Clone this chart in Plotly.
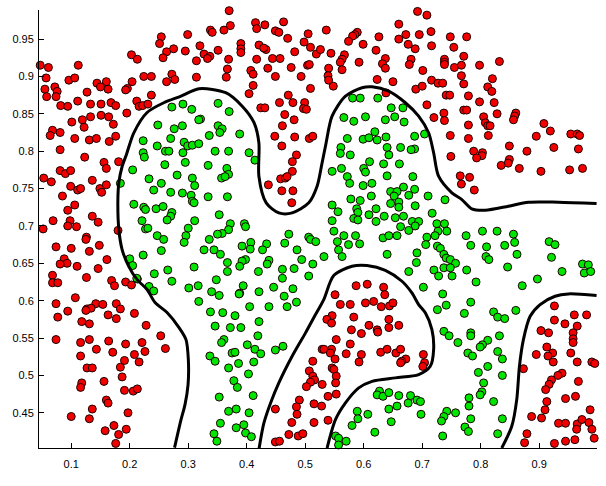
import plotly.graph_objects as go

# ---- data ----
red_points = [
(0.254,0.953),(0.251,0.944),(0.203,0.929),(0.213,0.923),(0.047,0.915),(0.061,0.912),(0.112,0.915),(0.263,0.933),(0.275,0.937),(0.257,0.925),(0.057,0.898),(0.096,0.895),(0.106,0.898),(0.144,0.891),(0.160,0.893),(0.150,0.886),(0.163,0.883),(0.196,0.884),(0.204,0.893),(0.193,0.882),(0.224,0.900),(0.237,0.900),(0.263,0.893),(0.272,0.903),(0.277,0.896),(0.055,0.883),(0.072,0.886),(0.076,0.880),(0.074,0.873),(0.058,0.873),(0.082,0.861),(0.094,0.860),(0.111,0.867),(0.127,0.879),(0.133,0.863),(0.151,0.863),(0.168,0.865),(0.176,0.861),(0.212,0.867),(0.216,0.860),(0.222,0.861),(0.231,0.863),(0.237,0.875),(0.195,0.851),(0.133,0.846),(0.151,0.848),(0.164,0.846),(0.172,0.836),(0.101,0.839),(0.119,0.842),(0.122,0.832),(0.068,0.828),(0.064,0.821),(0.081,0.825),(0.106,0.817),(0.131,0.815),(0.143,0.817),(0.176,0.820),(0.165,0.813),(0.081,0.802),
(0.370,0.988),(0.415,0.972),(0.431,0.969),(0.417,0.964),(0.463,0.973),(0.372,0.968),(0.361,0.962),(0.338,0.962),(0.341,0.959),(0.299,0.956),(0.449,0.961),(0.455,0.959),(0.505,0.957),(0.470,0.951),(0.421,0.942),(0.433,0.936),(0.429,0.938),(0.390,0.944),(0.390,0.937),(0.390,0.932),(0.320,0.941),(0.295,0.934),(0.351,0.935),(0.327,0.930),(0.337,0.927),(0.333,0.924),(0.314,0.921),(0.369,0.923),(0.417,0.923),(0.444,0.924),(0.457,0.924),(0.482,0.933),(0.498,0.946),(0.509,0.939),(0.519,0.930),(0.504,0.915),(0.507,0.916),(0.367,0.910),(0.365,0.899),(0.407,0.908),(0.411,0.903),(0.436,0.911),(0.476,0.912),(0.449,0.900),(0.493,0.900),(0.314,0.899),(0.411,0.888),(0.404,0.877),(0.509,0.884),(0.471,0.875),(0.456,0.865),(0.424,0.858),(0.431,0.858),(0.479,0.865),(0.499,0.865),(0.497,0.857),(0.502,0.856),(0.465,0.849),(0.481,0.842),(0.461,0.834),(0.448,0.820),(0.482,0.819),(0.507,0.817),(0.513,0.820),(0.460,0.807),
(0.692,0.987),(0.708,0.982),(0.660,0.970),(0.536,0.962),(0.589,0.959),(0.585,0.956),(0.581,0.954),(0.574,0.947),(0.599,0.943),(0.626,0.953),(0.660,0.950),(0.672,0.956),(0.695,0.956),(0.715,0.960),(0.676,0.943),(0.688,0.937),(0.716,0.941),(0.748,0.953),(0.754,0.939),(0.526,0.936),(0.544,0.931),(0.567,0.929),(0.563,0.923),(0.560,0.919),(0.563,0.909),(0.592,0.919),(0.621,0.935),(0.637,0.924),(0.632,0.917),(0.637,0.911),(0.681,0.923),(0.678,0.916),(0.701,0.908),(0.738,0.923),(0.738,0.919),(0.738,0.916),(0.755,0.912),(0.540,0.911),(0.539,0.901),(0.540,0.895),(0.548,0.887),(0.623,0.896),(0.650,0.893),(0.689,0.883),(0.700,0.887),(0.716,0.895),(0.727,0.891),(0.735,0.891),(0.741,0.875),(0.747,0.875),(0.638,0.878),(0.708,0.862),(0.737,0.851),(0.720,0.845),(0.738,0.841),(0.748,0.821),
(0.776,0.953),(0.771,0.927),(0.767,0.915),(0.798,0.915),(0.832,0.920),(0.767,0.901),(0.771,0.890),(0.820,0.897),(0.812,0.886),(0.819,0.880),(0.779,0.874),(0.798,0.866),(0.823,0.865),(0.771,0.855),(0.776,0.855),(0.828,0.850),(0.805,0.846),(0.860,0.851),(0.858,0.847),(0.856,0.842),(0.808,0.838),(0.812,0.834),(0.816,0.834),(0.779,0.835),(0.908,0.837),(0.919,0.827),(0.895,0.820),(0.813,0.821),(0.954,0.823),(0.965,0.823),(0.969,0.821),(0.779,0.817),(0.849,0.807),(0.925,0.805),(0.967,0.803),
(0.123,0.792),(0.156,0.785),(0.160,0.777),(0.181,0.786),(0.081,0.774),(0.090,0.770),(0.099,0.774),(0.053,0.764),(0.066,0.759),(0.136,0.761),(0.099,0.753),(0.111,0.748),(0.116,0.750),(0.149,0.750),(0.160,0.755),(0.152,0.745),(0.085,0.740),(0.106,0.728),(0.094,0.721),(0.136,0.713),(0.146,0.705),(0.069,0.707),(0.098,0.707),(0.094,0.700),(0.109,0.699),(0.052,0.696),(0.180,0.694),(0.126,0.685),(0.125,0.682),(0.074,0.672),(0.100,0.670),(0.148,0.674),(0.131,0.666),(0.161,0.655),(0.088,0.656),(0.093,0.650),(0.081,0.649),(0.110,0.646),(0.146,0.643),(0.068,0.634),(0.068,0.624),(0.077,0.624),(0.126,0.631),(0.169,0.627),(0.174,0.620),(0.193,0.625),(0.203,0.621),(0.213,0.629),(0.107,0.604),
(0.485,0.795),(0.478,0.786),(0.478,0.773),(0.437,0.755),(0.458,0.763),(0.466,0.764),(0.469,0.766),(0.460,0.747),(0.479,0.747),(0.477,0.731),
(0.749,0.793),(0.587,0.620),(0.606,0.622),(0.551,0.608),(0.634,0.618),(0.636,0.608),
(0.788,0.800),(0.803,0.798),(0.802,0.794),(0.793,0.791),(0.849,0.789),(0.847,0.784),(0.835,0.781),(0.866,0.777),(0.903,0.773),(0.879,0.800),(0.952,0.775),(0.974,0.777),(0.765,0.767),(0.781,0.765),(0.767,0.756),(0.789,0.748),
(0.074,0.596),(0.142,0.596),(0.154,0.595),(0.177,0.596),(0.184,0.589),(0.127,0.589),(0.134,0.590),(0.125,0.587),(0.094,0.586),(0.077,0.578),(0.163,0.581),(0.177,0.576),(0.208,0.583),(0.118,0.572),(0.131,0.569),(0.228,0.567),(0.074,0.548),(0.116,0.544),(0.131,0.548),(0.164,0.546),(0.193,0.542),(0.143,0.535),(0.171,0.531),(0.221,0.544),(0.226,0.532),(0.253,0.553),(0.261,0.536),(0.116,0.526),(0.208,0.528),(0.216,0.518),(0.191,0.520),(0.184,0.511),(0.127,0.510),(0.136,0.510),(0.187,0.498),(0.156,0.492),(0.118,0.490),(0.116,0.484),(0.191,0.480),(0.206,0.479),(0.213,0.482),(0.160,0.467),(0.163,0.463),(0.136,0.455),(0.100,0.445),(0.131,0.442),(0.197,0.450),(0.173,0.433),(0.158,0.426),(0.194,0.428),(0.181,0.421),(0.176,0.409),(0.146,0.402),
(0.513,0.519),(0.507,0.506),(0.513,0.499),(0.516,0.494),(0.509,0.491),(0.502,0.485),(0.490,0.467),(0.485,0.458),(0.486,0.448),(0.477,0.437),(0.515,0.462),(0.515,0.437),(0.449,0.455),(0.472,0.421),(0.449,0.411),(0.456,0.412),(0.488,0.419),(0.496,0.422),
(0.560,0.595),(0.577,0.595),(0.603,0.597),(0.617,0.599),(0.630,0.592),(0.644,0.593),(0.650,0.597),(0.546,0.580),(0.537,0.575),(0.545,0.570),(0.583,0.578),(0.579,0.561),(0.596,0.556),(0.609,0.567),(0.623,0.561),(0.624,0.558),(0.643,0.575),(0.643,0.564),(0.660,0.567),(0.553,0.548),(0.577,0.542),(0.529,0.535),(0.532,0.535),(0.545,0.535),(0.543,0.530),(0.570,0.529),(0.596,0.528),(0.592,0.518),(0.629,0.531),(0.640,0.535),(0.655,0.530),(0.663,0.535),(0.672,0.522),(0.665,0.519),(0.663,0.517),(0.702,0.528),(0.704,0.517),(0.701,0.512),(0.551,0.522),(0.546,0.510),(0.549,0.508),(0.553,0.499),(0.552,0.490),(0.529,0.488),(0.539,0.472),(0.553,0.475),(0.528,0.459),(0.539,0.440),
(0.926,0.593),(0.960,0.581),(0.981,0.581),(0.926,0.574),(0.944,0.569),(0.965,0.566),(0.903,0.560),(0.916,0.557),(0.958,0.557),(0.958,0.549),(0.958,0.544),(0.913,0.538),(0.923,0.530),(0.915,0.526),(0.895,0.528),(0.954,0.530),(0.965,0.518),(0.924,0.518),(0.990,0.518),(0.995,0.516),(0.873,0.509),(0.939,0.503),(0.932,0.500),(0.921,0.494),(0.917,0.488),(0.911,0.481),(0.967,0.492),(0.945,0.469),(0.962,0.472),(0.913,0.465),(0.910,0.454),(0.904,0.443),(0.887,0.445),(0.987,0.454),(0.933,0.436),(0.945,0.436),(0.965,0.435),(0.973,0.441),(0.985,0.437),(0.964,0.428),(0.990,0.428),(0.994,0.416),(0.961,0.414),(0.945,0.412),(0.926,0.409),(0.875,0.410),(0.879,0.422),
]

green_points = [
(0.272,0.859),(0.248,0.835),(0.276,0.830),(0.223,0.814),(0.270,0.817),(0.247,0.807),
(0.291,0.863),(0.306,0.856),(0.321,0.843),(0.318,0.842),(0.351,0.864),(0.370,0.853),(0.290,0.834),(0.351,0.834),(0.358,0.830),(0.354,0.825),(0.336,0.821),(0.388,0.823),(0.293,0.812),(0.299,0.807),(0.307,0.808),(0.318,0.810),
(0.581,0.871),(0.594,0.871),(0.624,0.871),(0.647,0.858),(0.667,0.858),(0.566,0.845),(0.583,0.840),(0.603,0.846),(0.637,0.842),(0.653,0.846),(0.669,0.839),(0.572,0.817),(0.599,0.816),(0.609,0.818),(0.619,0.826),(0.623,0.815),(0.638,0.819),(0.687,0.820),(0.704,0.823),(0.561,0.805),(0.640,0.805),(0.663,0.805),(0.687,0.803),
(0.223,0.798),(0.225,0.792),(0.261,0.800),(0.267,0.800),(0.260,0.782),(0.205,0.775),(0.233,0.763),(0.254,0.757),(0.281,0.768),(0.270,0.745),(0.241,0.748),(0.184,0.757),(0.207,0.729),(0.224,0.725),(0.227,0.722),(0.245,0.723),(0.257,0.726),(0.272,0.718),(0.270,0.713),(0.264,0.708),(0.221,0.707),(0.227,0.696),(0.231,0.697),(0.247,0.687),(0.258,0.682),(0.254,0.667),(0.223,0.661),(0.200,0.656),(0.205,0.647),(0.242,0.636),(0.265,0.641),(0.272,0.626),(0.212,0.630),(0.233,0.619),(0.241,0.613),
(0.291,0.798),(0.346,0.800),(0.369,0.800),(0.404,0.798),(0.295,0.785),(0.334,0.781),(0.366,0.777),(0.369,0.769),(0.357,0.764),(0.363,0.766),(0.307,0.764),(0.311,0.754),(0.290,0.744),(0.305,0.741),(0.307,0.733),(0.310,0.731),(0.334,0.739),(0.367,0.739),(0.414,0.788),(0.353,0.715),(0.311,0.707),(0.372,0.703),(0.396,0.703),(0.398,0.699),(0.300,0.697),(0.296,0.687),(0.293,0.678),(0.369,0.695),(0.358,0.690),(0.350,0.689),(0.336,0.682),(0.327,0.668),(0.344,0.668),(0.355,0.662),(0.392,0.673),(0.407,0.678),(0.406,0.669),(0.434,0.676),(0.427,0.668),(0.472,0.689),(0.465,0.677),(0.506,0.685),(0.509,0.682),(0.518,0.679),(0.486,0.668),(0.494,0.655),(0.438,0.654),(0.435,0.649),(0.398,0.655),(0.392,0.653),(0.388,0.646),(0.367,0.651),(0.367,0.639),(0.310,0.645),(0.420,0.639),(0.461,0.642),(0.481,0.643),(0.513,0.649),(0.506,0.633),(0.348,0.628),(0.394,0.620),(0.388,0.610),(0.387,0.609),(0.446,0.618),(0.461,0.630),(0.479,0.616),(0.421,0.612),(0.301,0.617),(0.317,0.620),(0.340,0.612),(0.353,0.607),(0.464,0.606),
(0.560,0.797),(0.577,0.795),(0.643,0.795),(0.681,0.802),(0.610,0.786),(0.634,0.783),(0.661,0.783),(0.546,0.773),(0.562,0.777),(0.572,0.766),(0.600,0.777),(0.603,0.772),(0.640,0.767),(0.684,0.766),(0.576,0.757),(0.599,0.754),(0.614,0.757),(0.668,0.752),(0.646,0.746),(0.657,0.746),(0.652,0.740),(0.687,0.749),(0.677,0.741),(0.710,0.740),(0.739,0.735),(0.578,0.736),(0.594,0.734),(0.613,0.740),(0.646,0.730),(0.660,0.732),(0.660,0.725),(0.688,0.727),(0.546,0.728),(0.556,0.719),(0.588,0.723),(0.590,0.718),(0.621,0.723),(0.583,0.710),(0.590,0.708),(0.609,0.715),(0.621,0.706),(0.635,0.713),(0.654,0.711),(0.668,0.713),(0.683,0.706),(0.694,0.706),(0.688,0.700),(0.717,0.717),(0.725,0.703),(0.738,0.703),(0.677,0.694),(0.663,0.699),(0.727,0.693),(0.742,0.693),(0.546,0.707),(0.549,0.693),(0.566,0.687),(0.586,0.687),(0.593,0.676),(0.574,0.675),(0.555,0.679),(0.557,0.668),(0.563,0.659),(0.532,0.659),(0.633,0.684),(0.643,0.687),(0.657,0.687),(0.708,0.685),(0.706,0.675),(0.722,0.687),(0.726,0.673),(0.731,0.670),(0.691,0.664),(0.737,0.662),(0.741,0.657),(0.748,0.655),(0.757,0.650),(0.640,0.662),(0.690,0.651),(0.677,0.639),(0.720,0.641),(0.728,0.633),(0.737,0.644),(0.748,0.644),(0.751,0.633),(0.702,0.618),(0.735,0.609),
(0.775,0.687),(0.783,0.674),(0.803,0.693),(0.828,0.693),(0.856,0.689),(0.858,0.678),(0.841,0.674),(0.810,0.672),(0.809,0.659),(0.814,0.655),(0.776,0.641),(0.792,0.625),(0.846,0.645),(0.862,0.662),(0.871,0.620),(0.897,0.629),(0.917,0.679),(0.927,0.675),(0.921,0.658),(0.939,0.639),(0.974,0.649),(0.984,0.648),(0.977,0.637),(0.988,0.639),
(0.318,0.599),(0.338,0.585),(0.359,0.584),(0.380,0.580),(0.405,0.592),(0.438,0.592),(0.469,0.592),(0.485,0.598),(0.346,0.566),(0.372,0.564),(0.390,0.564),(0.421,0.572),(0.419,0.553),(0.361,0.548),(0.357,0.544),(0.401,0.541),(0.414,0.535),(0.424,0.529),(0.375,0.530),(0.380,0.531),(0.337,0.526),(0.346,0.519),(0.386,0.516),(0.412,0.518),(0.369,0.510),(0.449,0.534),(0.462,0.539),(0.403,0.502),(0.378,0.493),(0.384,0.484),(0.353,0.471),(0.411,0.473),(0.369,0.452),(0.382,0.455),(0.404,0.450),(0.355,0.436),(0.382,0.430),(0.395,0.434),(0.398,0.423),(0.408,0.418),(0.344,0.422),(0.349,0.412),
(0.726,0.588),(0.741,0.594),(0.737,0.559),(0.746,0.553),(0.761,0.544),(0.627,0.479),(0.623,0.474),(0.633,0.472),(0.643,0.477),(0.660,0.473),(0.680,0.473),(0.691,0.467),(0.697,0.465),(0.676,0.463),(0.657,0.459),(0.643,0.455),(0.589,0.452),(0.590,0.442),(0.607,0.448),(0.698,0.448),(0.647,0.438),(0.580,0.433),(0.619,0.424),(0.742,0.452),(0.757,0.450),(0.737,0.445),(0.733,0.439),(0.735,0.419),(0.552,0.419),(0.557,0.416),(0.570,0.412),(0.557,0.407),
(0.783,0.598),(0.772,0.583),(0.822,0.585),(0.829,0.578),(0.841,0.576),(0.860,0.587),(0.783,0.557),(0.783,0.553),(0.832,0.553),(0.812,0.547),(0.803,0.541),(0.799,0.538),(0.778,0.530),(0.786,0.526),(0.829,0.532),(0.837,0.522),(0.812,0.512),(0.796,0.504),(0.837,0.500),(0.805,0.490),(0.802,0.478),(0.799,0.474),(0.780,0.470),(0.780,0.459),(0.822,0.465),(0.783,0.442),(0.837,0.442),(0.773,0.431),(0.779,0.425),(0.829,0.422),
]

# decision boundary contour pieces
boundary_a = [
(0.2766,0.4033),(0.2809,0.4181),(0.2877,0.4408),(0.2945,0.4609),(0.2997,0.4877),(0.3002,0.5212),(0.2962,0.5479),(0.2843,0.5640),(0.2638,0.5841),(0.2433,0.5975),(0.2297,0.6149),(0.2126,0.6282),(0.1985,0.6456),(0.1870,0.6684),(0.1814,0.6952),(0.1797,0.7313),(0.1814,0.7581),(0.1870,0.7795),(0.1944,0.7956),(0.2070,0.8246),(0.2297,0.8518),(0.2582,0.8648),(0.2877,0.8736),(0.3184,0.8835),(0.3640,0.8782),(0.3923,0.8602),(0.4123,0.8384),(0.4208,0.8112),(0.4208,0.7665),(0.4333,0.7309),(0.4549,0.7175),(0.4776,0.7175),(0.5061,0.7309),(0.5203,0.7531),(0.5283,0.7822),(0.5352,0.8090),(0.5459,0.8469),(0.5688,0.8736),(0.5971,0.8849),(0.6142,0.8862),(0.6427,0.8803),(0.6712,0.8648),(0.6939,0.8469),(0.7109,0.8246),(0.7195,0.7979),(0.7280,0.7665),(0.7507,0.7443),(0.7678,0.7353),(0.7848,0.7229),(0.8077,0.7210),(0.8474,0.7264),(0.8816,0.7317),(0.9328,0.7317),(0.9981,0.7300),
]
boundary_b = [
(0.4208,0.4007),(0.4294,0.4364),(0.4408,0.4632),(0.4549,0.4900),(0.4776,0.5256),(0.5005,0.5569),(0.5176,0.5814),(0.5317,0.6015),(0.5488,0.6336),(0.5800,0.6460),(0.6056,0.6470),(0.6370,0.6407),(0.6654,0.6260),(0.6824,0.6104),(0.6939,0.5948),(0.7053,0.5837),(0.7166,0.5613),(0.7195,0.5345),(0.7138,0.5122),(0.6939,0.5011),(0.6541,0.4967),(0.6142,0.4921),(0.5915,0.4833),(0.5688,0.4632),(0.5517,0.4408),(0.5374,0.4029),
]
boundary_c = [
(0.8360,0.4029),(0.8531,0.4319),(0.8616,0.4676),(0.8662,0.5122),(0.8730,0.5479),(0.8845,0.5791),(0.9015,0.5948),(0.9271,0.6059),(0.9498,0.6091),(0.9981,0.6068),
]

x_ticks = [0.1, 0.2, 0.3, 0.4, 0.5, 0.6, 0.7, 0.8, 0.9]
x_tick_labels = ["0.1", "0.2", "0.3", "0.4", "0.5", "0.6", "0.7", "0.8", "0.9"]
y_ticks = [0.45, 0.5, 0.55, 0.6, 0.65, 0.7, 0.75, 0.8, 0.85, 0.9, 0.95]
y_tick_labels = ["0.45", "0.5", "0.55", "0.6", "0.65", "0.7", "0.75", "0.8", "0.85", "0.9", "0.95"]
x_range = [0.0449, 0.9988]
y_range = [0.4029, 0.9889]

fig = go.Figure()

def add_points(pts, fill):
    fig.add_trace(go.Scatter(
        x=[p[0] for p in pts], y=[p[1] for p in pts], mode="markers",
        marker=dict(size=8, color=fill, line=dict(color="#1a0000", width=1)),
        cliponaxis=False, showlegend=False, hoverinfo="skip"))

add_points(red_points, "#f20000")
add_points(green_points, "#00e600")

for curve in (boundary_a, boundary_b, boundary_c):
    fig.add_trace(go.Scatter(
        x=[p[0] for p in curve], y=[p[1] for p in curve], mode="lines",
        line=dict(color="black", width=3, shape="spline", smoothing=0.8),
        cliponaxis=True, showlegend=False, hoverinfo="skip"))

axis_common = dict(showline=True, linecolor="black", linewidth=1, ticks="inside",
                   ticklen=5, tickcolor="black", showgrid=False, zeroline=False,
                   mirror=False, tickfont=dict(family="Liberation Sans, Arial", size=11, color="black"))

fig.update_xaxes(range=x_range, tickvals=x_ticks, ticktext=x_tick_labels,
                 ticklabelstandoff=6, **axis_common)
fig.update_yaxes(range=y_range, tickvals=y_ticks, ticktext=y_tick_labels,
                 ticklabelstandoff=2, **axis_common)

fig.update_layout(width=606, height=486, margin=dict(l=39, r=9, t=10, b=38),
                  plot_bgcolor="white", paper_bgcolor="white")

fig.write_html("out.html")
